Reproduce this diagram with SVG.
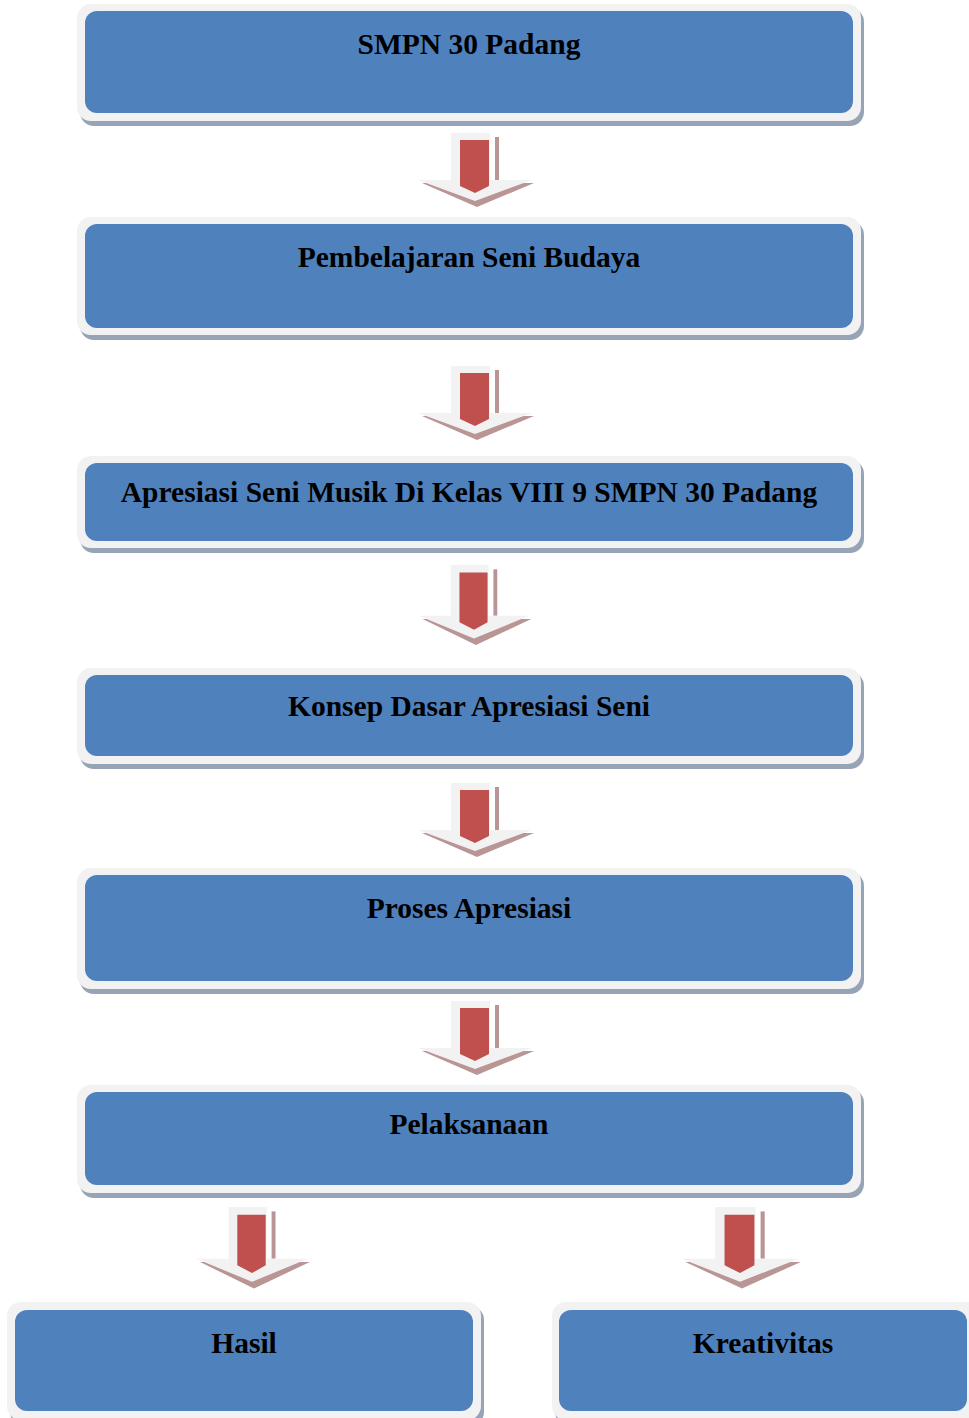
<svg xmlns="http://www.w3.org/2000/svg" width="969" height="1418" viewBox="0 0 969 1418">
<defs>
<style>
.sh{fill:#97a4b6}
.out{fill:#f2f2f2}
.in{fill:#4f81bd}
.t{font-family:"Liberation Serif","Times New Roman",serif;font-weight:bold;font-size:29.5px;fill:#000;text-anchor:middle}
.ash{fill:#b99595}
.al{fill:#f2f2f2}
.ar{fill:#c0504d}
</style>
<g id="arrow">
<rect class="ash" x="20" y="4" width="4" height="43"/>
<polygon class="ash" points="-53,50 2,74 59,50"/>
<polygon class="al" points="-24,0 15,0 15,47 57,47 0,68 -57,47 -24,47"/>
<polygon class="ar" points="-15,7 14,7 14,53 0,60 -15,53"/>
</g>
</defs>
<rect width="969" height="1418" fill="#ffffff"/>
<g id="connectors">
<use href="#arrow" transform="translate(475,133)"/>
<use href="#arrow" transform="translate(475,366)"/>
<use href="#arrow" transform="translate(474,565) scale(0.97,1.08)"/>
<use href="#arrow" transform="translate(475,783)"/>
<use href="#arrow" transform="translate(475,1001)"/>
<use href="#arrow" transform="translate(252,1207) scale(0.98,1.1)"/>
<use href="#arrow" transform="translate(740,1207) scale(1.03,1.1)"/>
</g>
<g id="n1">
<rect class="sh" x="80" y="8" width="784" height="118" rx="14"/>
<rect class="out" x="77" y="4" width="784" height="117" rx="14"/>
<rect class="in" x="85" y="11" width="768" height="102" rx="12"/>
<text class="t" x="469" y="54">SMPN 30 Padang</text>
</g>
<g id="n2">
<rect class="sh" x="80" y="221" width="784" height="119" rx="14"/>
<rect class="out" x="77" y="217" width="784" height="118" rx="14"/>
<rect class="in" x="85" y="224" width="768" height="104" rx="12"/>
<text class="t" x="469" y="267">Pembelajaran Seni Budaya</text>
</g>
<g id="n3">
<rect class="sh" x="80" y="460" width="784" height="93" rx="14"/>
<rect class="out" x="77" y="456" width="784" height="92" rx="14"/>
<rect class="in" x="85" y="463" width="768" height="78" rx="12"/>
<text class="t" x="469" y="502">Apresiasi Seni Musik Di Kelas VIII 9 SMPN 30 Padang</text>
</g>
<g id="n4">
<rect class="sh" x="80" y="672" width="784" height="97" rx="14"/>
<rect class="out" x="77" y="668" width="784" height="96" rx="14"/>
<rect class="in" x="85" y="675" width="768" height="81" rx="12"/>
<text class="t" x="469" y="716">Konsep Dasar Apresiasi Seni</text>
</g>
<g id="n5">
<rect class="sh" x="80" y="872" width="784" height="122" rx="14"/>
<rect class="out" x="77" y="868" width="784" height="121" rx="14"/>
<rect class="in" x="85" y="875" width="768" height="106" rx="12"/>
<text class="t" x="469" y="918">Proses Apresiasi</text>
</g>
<g id="n6">
<rect class="sh" x="80" y="1089" width="784" height="109" rx="14"/>
<rect class="out" x="77" y="1085" width="784" height="108" rx="14"/>
<rect class="in" x="85" y="1092" width="768" height="93" rx="12"/>
<text class="t" x="469" y="1134">Pelaksanaan</text>
</g>
<g id="n7">
<rect class="sh" x="10" y="1306" width="474" height="120" rx="14"/>
<rect class="out" x="7" y="1302" width="474" height="118" rx="14"/>
<rect class="in" x="15" y="1310" width="458" height="101" rx="12"/>
<text class="t" x="244" y="1353">Hasil</text>
</g>
<g id="n8">
<rect class="sh" x="555" y="1306" width="430" height="120" rx="14"/>
<rect class="out" x="552" y="1302" width="430" height="118" rx="14"/>
<rect class="in" x="559" y="1310" width="408" height="101" rx="12"/>
<text class="t" x="763" y="1353">Kreativitas</text>
</g>
</svg>
